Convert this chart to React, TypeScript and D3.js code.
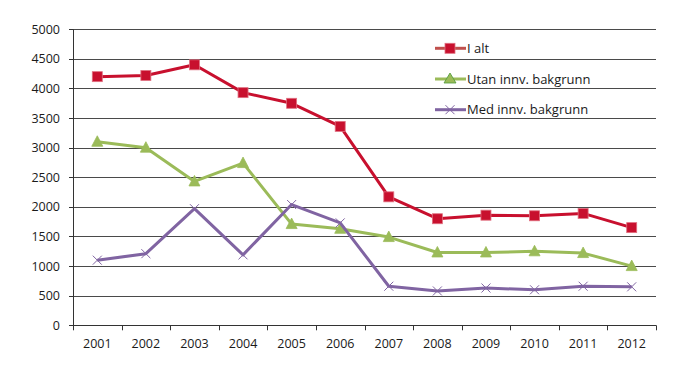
import React from "react";
import * as d3 from "d3";

const years = ["2001","2002","2003","2004","2005","2006","2007","2008","2009","2010","2011","2012"];
const iAlt = [4200, 4220, 4400, 3930, 3750, 3360, 2170, 1800, 1860, 1850, 1890, 1650];
const utan = [3100, 3000, 2430, 2740, 1710, 1630, 1490, 1230, 1230, 1250, 1220, 1000];
const med = [1100, 1210, 1970, 1190, 2040, 1730, 660, 580, 630, 600, 660, 650];
const yTicks = [0, 500, 1000, 1500, 2000, 2500, 3000, 3500, 4000, 4500, 5000];
const seriesNames = ["I alt", "Utan innv. bakgrunn", "Med innv. bakgrunn"];

const W = 700, H = 373;
const left = 73, right = 656, top = 29.3, bottom = 325.3;
const font = "'Open Sans', 'DejaVu Sans', sans-serif";

const RED = "#C8102E";
const GREEN = "#9BBB59";
const PURPLE = "#8064A2";

function Marker({ kind, x, y }: { kind: string; x: number; y: number }) {
  if (kind === "square") {
    return <rect x={x - 5} y={y - 5} width={10} height={10} fill={RED} stroke="#E07080" strokeWidth={0.8} />;
  }
  if (kind === "triangle") {
    const s = 5.5;
    return <path d={`M${x},${y - s - 0.5}L${x + s},${y + s - 1}L${x - s},${y + s - 1}Z`} fill={GREEN} stroke={GREEN} strokeWidth={0.8} />;
  }
  const s = 4.5;
  return <path d={`M${x - s},${y - s}L${x + s},${y + s}M${x - s},${y + s}L${x + s},${y - s}`} stroke={PURPLE} strokeWidth={1} fill="none" />;
}

export default function App() {
  const x = d3.scaleBand<string>().domain(years).range([left, right]);
  const y = d3.scaleLinear().domain([0, 5000]).range([bottom, top]);
  const cx = (yr: string) => (x(yr) as number) + x.bandwidth() / 2;
  const line = d3.line<[string, number]>().x(d => cx(d[0])).y(d => y(d[1]));

  const series = [
    { name: seriesNames[0], values: iAlt, color: RED, legendColor: "#C0504D", kind: "square" },
    { name: seriesNames[1], values: utan, color: GREEN, legendColor: GREEN, kind: "triangle" },
    { name: seriesNames[2], values: med, color: PURPLE, legendColor: PURPLE, kind: "x" },
  ];

  const crisp = (v: number) => Math.round(v) + 0.5;

  return (
    <svg width={W} height={H} style={{ position: "absolute", left: 0, top: 0 }} fontFamily={font}>
      <rect width={W} height={H} fill="#fff" />
      {yTicks.map(t => (
        <g key={t}>
          {t > 0 && <line x1={left} x2={right} y1={crisp(y(t))} y2={crisp(y(t))} stroke="#4a4a4a" strokeWidth={1} />}
          <line x1={left - 4} x2={left} y1={crisp(y(t))} y2={crisp(y(t))} stroke="#333" strokeWidth={1} />
          <text x={60} y={y(t) + 4.5} textAnchor="end" fontSize={12.5} fill="#1a1a1a">{t}</text>
        </g>
      ))}
      <line x1={crisp(left)} x2={crisp(left)} y1={top} y2={bottom} stroke="#333" strokeWidth={1} />
      <line x1={left} x2={right} y1={crisp(bottom)} y2={crisp(bottom)} stroke="#333" strokeWidth={1} />
      {years.map((yr, i) => (
        <line key={"t" + yr} x1={crisp(x(yr) as number)} x2={crisp(x(yr) as number)} y1={bottom} y2={bottom + 5} stroke="#333" strokeWidth={1} />
      ))}
      <line x1={crisp(right)} x2={crisp(right)} y1={bottom} y2={bottom + 5} stroke="#333" strokeWidth={1} />
      {years.map(yr => (
        <text key={"l" + yr} x={cx(yr)} y={348} textAnchor="middle" fontSize={12.5} fill="#1a1a1a">{yr}</text>
      ))}
      {series.map(s => (
        <g key={s.name}>
          <path d={line(years.map((yr, i) => [yr, s.values[i]] as [string, number])) || ""} fill="none" stroke={s.color} strokeWidth={3} strokeLinejoin="round" />
          {years.map((yr, i) => <Marker key={yr} kind={s.kind} x={cx(yr)} y={y(s.values[i])} />)}
        </g>
      ))}
      {series.map((s, i) => {
        const ly = 48.3 + i * 30.7;
        return (
          <g key={"lg" + s.name}>
            <line x1={435} x2={466} y1={ly} y2={ly} stroke={s.legendColor} strokeWidth={3} />
            {s.kind === "triangle" ? (
              <path d={`M450,${ly - 6}L456,${ly + 4}L444,${ly + 4}Z`} fill={GREEN} stroke="#4E9A3A" strokeWidth={0.8} />
            ) : (
              <Marker kind={s.kind} x={450} y={ly} />
            )}
            <text x={467} y={ly + 4.7} fontSize={13} fill="#1a1a1a">{s.name}</text>
          </g>
        );
      })}
    </svg>
  );
}
